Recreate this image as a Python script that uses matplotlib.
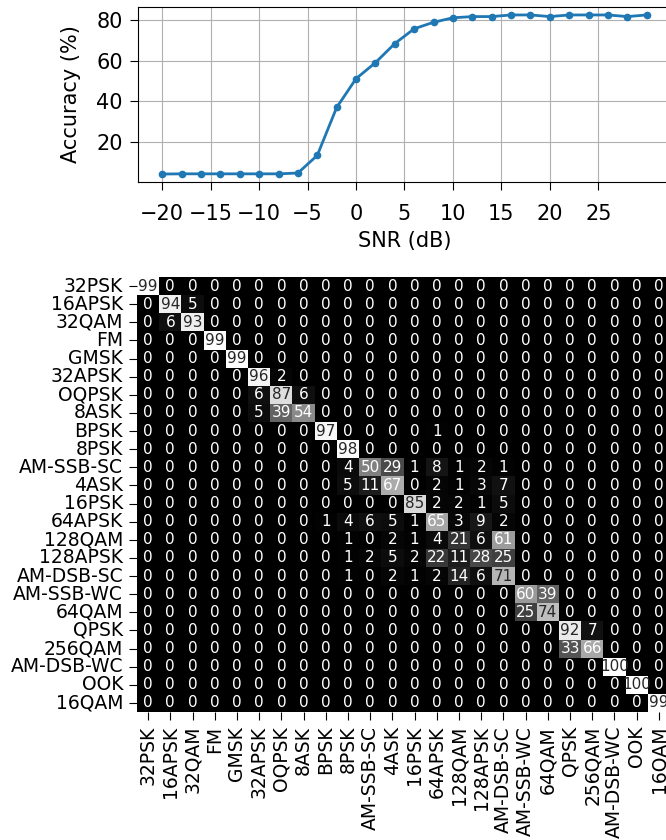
import matplotlib
matplotlib.use("Agg")
import matplotlib.pyplot as plt
import numpy as np
import seaborn as sns


snr = list(range(-20, 32, 2))
accuracy = [4.2, 4.3, 4.3, 4.3, 4.3, 4.3, 4.3, 4.7, 13.4, 37.0, 51.2, 59.1, 68.5,
            75.8, 79.0, 81.2, 81.8, 81.8, 82.6, 82.6, 81.8, 82.6, 82.6, 82.6,
            81.8, 82.6]

classes = ["32PSK", "16APSK", "32QAM", "FM", "GMSK", "32APSK", "OQPSK", "8ASK",
           "BPSK", "8PSK", "AM-SSB-SC", "4ASK", "16PSK", "64APSK", "128QAM",
           "128APSK", "AM-DSB-SC", "AM-SSB-WC", "64QAM", "QPSK", "256QAM",
           "AM-DSB-WC", "OOK", "16QAM"]

# non-zero cells of the confusion matrix (row, col, percent)
nonzero = [
    (0, 0, 99),
    (1, 1, 94), (1, 2, 5),
    (2, 1, 6), (2, 2, 93),
    (3, 3, 99),
    (4, 4, 99),
    (5, 5, 96), (5, 6, 2),
    (6, 5, 6), (6, 6, 87), (6, 7, 6),
    (7, 5, 5), (7, 6, 39), (7, 7, 54),
    (8, 8, 97), (8, 13, 1),
    (9, 9, 98),
    (10, 9, 4), (10, 10, 50), (10, 11, 29), (10, 12, 1), (10, 13, 8), (10, 14, 1), (10, 15, 2), (10, 16, 1),
    (11, 9, 5), (11, 10, 11), (11, 11, 67), (11, 13, 2), (11, 14, 1), (11, 15, 3), (11, 16, 7),
    (12, 12, 85), (12, 13, 2), (12, 14, 2), (12, 15, 1), (12, 16, 5),
    (13, 8, 1), (13, 9, 4), (13, 10, 6), (13, 11, 5), (13, 12, 1), (13, 13, 65), (13, 14, 3), (13, 15, 9), (13, 16, 2),
    (14, 9, 1), (14, 11, 2), (14, 12, 1), (14, 13, 4), (14, 14, 21), (14, 15, 6), (14, 16, 61),
    (15, 9, 1), (15, 10, 2), (15, 11, 5), (15, 12, 2), (15, 13, 22), (15, 14, 11), (15, 15, 28), (15, 16, 25),
    (16, 9, 1), (16, 11, 2), (16, 12, 1), (16, 13, 2), (16, 14, 14), (16, 15, 6), (16, 16, 71),
    (17, 17, 60), (17, 18, 39),
    (18, 17, 25), (18, 18, 74),
    (19, 19, 92), (19, 20, 7),
    (20, 19, 33), (20, 20, 66),
    (21, 21, 100),
    (22, 22, 100),
    (23, 23, 99),
]

n = len(classes)
conf = np.zeros((n, n), dtype=int)
for r, c, v in nonzero:
    conf[r, c] = v


fig = plt.figure(figsize=(6.66, 8.4), dpi=100)

# accuracy vs snr (right side runs past the figure edge like the reference)
ax1 = fig.add_axes([138 / 666, 1 - 182 / 840, 533 / 666, 175 / 840])
ax1.plot(snr, accuracy, marker='.', markersize=9, linewidth=2)
ax1.set_xticks(range(-20, 30, 5))
ax1.set_yticks([20, 40, 60, 80])
ax1.grid(True)
ax1.set_xlabel("SNR (dB)", fontsize=15, labelpad=5)
ax1.set_ylabel("Accuracy (%)", fontsize=15, labelpad=11)
ax1.tick_params(labelsize=15, length=6)
ax1.tick_params(axis='x', pad=10)
ax1.tick_params(axis='y', pad=5)

# confusion matrix
ax2 = fig.add_axes([137 / 666, 1 - 712 / 840, 533 / 666, 435 / 840])
sns.heatmap(conf, annot=True, fmt='d', cmap='gray', cbar=False,
            xticklabels=classes, yticklabels=classes, ax=ax2,
            annot_kws={'size': 11})
ax2.tick_params(labelsize=13.5, length=6, pad=4)
plt.setp(ax2.get_xticklabels(), rotation=90)
plt.setp(ax2.get_yticklabels(), rotation=0)

fig.savefig("out.png", dpi=100)
